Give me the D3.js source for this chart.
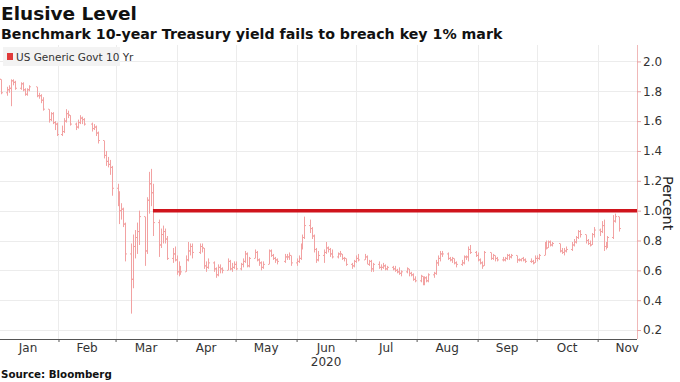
<!DOCTYPE html>
<html>
<head>
<meta charset="utf-8">
<script src="https://cdn.jsdelivr.net/npm/d3@7"></script>
<style>
  body { margin: 0; background: #fff; }
  svg { display: block; font-family: "DejaVu Sans", Verdana, sans-serif; }
</style>
</head>
<body>
<div id="chart"></div>
<script>
// trading days Jan 2 .. Nov 12 2020 (weekends and bond-market holidays skipped)
const startDay = '2020-01-02';
const endDay = '2020-11-12';
const holidays = ['2020-01-20', '2020-02-17', '2020-04-10', '2020-05-25', '2020-07-03',
  '2020-09-07', '2020-10-12', '2020-11-11'];

// daily bars, one row per month: open, high, low, close (%)
const opens = [
  1.92,1.88,1.79,1.81,1.82,1.87,1.86,1.82,1.85,1.81,1.78,1.81,1.83,1.77,1.77,1.74,1.68,1.61,1.65,1.59,1.58,
  1.51,1.53,1.60,1.65,1.64,1.58,1.56,1.59,1.62,1.61,1.58,1.55,1.56,1.52,1.47,1.37,1.33,1.31,1.29,
  1.15,1.09,1.00,1.01,0.91,0.71,0.54,0.76,0.82,0.86,0.96,0.73,1.07,1.18,1.12,0.92,0.77,0.84,0.86,0.81,0.68,0.71,
  0.67,0.59,0.61,0.59,0.67,0.73,0.76,0.72,0.76,0.75,0.63,0.62,0.65,0.61,0.57,0.62,0.61,0.60,0.66,0.61,0.62,
  0.64,0.61,0.64,0.66,0.71,0.63,0.68,0.72,0.67,0.65,0.62,0.64,0.73,0.70,0.68,0.67,0.66,0.69,0.69,0.70,
  0.65,0.66,0.68,0.76,0.82,0.90,0.88,0.83,0.74,0.67,0.70,0.72,0.75,0.74,0.71,0.69,0.71,0.71,0.68,0.68,0.64,0.63,
  0.66,0.68,0.67,0.69,0.64,0.66,0.61,0.64,0.62,0.62,0.63,0.61,0.62,0.61,0.60,0.59,0.58,0.59,0.61,0.58,0.57,0.54,
  0.53,0.56,0.51,0.55,0.53,0.57,0.58,0.65,0.68,0.71,0.71,0.68,0.67,0.68,0.65,0.64,0.65,0.69,0.69,0.74,0.72,
  0.70,0.67,0.65,0.63,0.72,0.68,0.70,0.68,0.67,0.67,0.68,0.70,0.69,0.70,0.67,0.67,0.68,0.67,0.66,0.66,0.65,
  0.68,0.68,0.70,0.77,0.75,0.79,0.77,0.78,0.73,0.72,0.73,0.74,0.77,0.79,0.82,0.86,0.84,0.80,0.78,0.77,0.84,
  0.87,0.86,0.90,0.76,0.77,0.82,0.93,0.96
];
const highs = [
  1.93,1.88,1.83,1.84,1.88,1.88,1.87,1.86,1.86,1.82,1.82,1.84,1.83,1.79,1.78,1.76,1.68,1.66,1.66,1.60,1.59,
  1.57,1.62,1.68,1.67,1.64,1.59,1.61,1.64,1.63,1.62,1.59,1.58,1.57,1.53,1.47,1.40,1.36,1.34,1.30,
  1.18,1.13,1.05,1.02,0.92,0.78,0.84,0.87,0.92,1.00,0.96,1.09,1.26,1.28,1.18,0.94,0.88,0.90,0.88,0.83,0.75,0.76,
  0.70,0.66,0.63,0.70,0.79,0.78,0.78,0.78,0.78,0.75,0.66,0.68,0.66,0.62,0.64,0.64,0.62,0.68,0.67,0.65,0.66,
  0.66,0.65,0.68,0.73,0.72,0.69,0.74,0.73,0.68,0.66,0.66,0.74,0.74,0.71,0.69,0.68,0.71,0.71,0.72,0.70,
  0.68,0.70,0.78,0.84,0.96,0.94,0.89,0.84,0.75,0.73,0.74,0.79,0.76,0.75,0.74,0.72,0.73,0.71,0.69,0.68,0.65,0.67,
  0.70,0.71,0.71,0.70,0.67,0.67,0.65,0.66,0.64,0.65,0.64,0.63,0.63,0.63,0.61,0.62,0.60,0.62,0.61,0.59,0.58,0.56,
  0.57,0.56,0.56,0.56,0.58,0.59,0.67,0.70,0.73,0.73,0.72,0.69,0.69,0.68,0.66,0.67,0.70,0.70,0.76,0.77,0.73,
  0.72,0.68,0.66,0.73,0.72,0.71,0.70,0.69,0.69,0.69,0.71,0.71,0.71,0.70,0.68,0.68,0.69,0.68,0.68,0.67,0.70,
  0.70,0.71,0.79,0.80,0.80,0.80,0.79,0.78,0.75,0.75,0.76,0.79,0.81,0.83,0.87,0.87,0.84,0.81,0.80,0.85,0.89,
  0.88,0.93,0.94,0.79,0.83,0.97,0.98,0.96
];
const lows = [
  1.86,1.78,1.77,1.79,1.70,1.84,1.81,1.81,1.80,1.77,1.77,1.80,1.76,1.75,1.72,1.67,1.59,1.60,1.58,1.54,1.50,
  1.50,1.52,1.59,1.62,1.57,1.54,1.55,1.58,1.58,1.57,1.53,1.54,1.50,1.45,1.35,1.30,1.29,1.24,1.10,
  1.03,0.91,0.94,0.89,0.66,0.31,0.48,0.68,0.71,0.77,0.63,0.71,0.98,1.03,0.83,0.69,0.75,0.78,0.78,0.67,0.65,0.66,
  0.57,0.56,0.57,0.59,0.66,0.70,0.68,0.71,0.72,0.61,0.59,0.61,0.59,0.55,0.56,0.58,0.58,0.60,0.60,0.59,0.61,
  0.60,0.60,0.62,0.65,0.62,0.62,0.68,0.66,0.63,0.60,0.61,0.64,0.69,0.67,0.65,0.64,0.65,0.67,0.67,0.63,
  0.63,0.65,0.67,0.74,0.81,0.85,0.81,0.72,0.65,0.66,0.65,0.71,0.72,0.69,0.68,0.68,0.69,0.67,0.66,0.63,0.61,0.62,
  0.65,0.66,0.67,0.64,0.63,0.59,0.59,0.61,0.60,0.61,0.60,0.60,0.60,0.59,0.58,0.57,0.56,0.58,0.56,0.56,0.53,0.52,
  0.52,0.50,0.50,0.52,0.52,0.55,0.57,0.63,0.66,0.69,0.67,0.66,0.65,0.64,0.62,0.63,0.64,0.67,0.66,0.71,0.69,
  0.66,0.64,0.61,0.63,0.67,0.67,0.66,0.66,0.66,0.66,0.67,0.67,0.68,0.65,0.66,0.66,0.66,0.65,0.65,0.64,0.65,
  0.66,0.67,0.70,0.74,0.75,0.76,0.76,0.72,0.71,0.70,0.72,0.73,0.76,0.78,0.81,0.82,0.78,0.77,0.76,0.77,0.82,
  0.83,0.85,0.73,0.74,0.75,0.81,0.92,0.86
];
const closes = [
  1.88,1.79,1.81,1.82,1.87,1.86,1.82,1.85,1.81,1.78,1.81,1.83,1.77,1.77,1.74,1.68,1.61,1.65,1.59,1.58,1.51,
  1.53,1.60,1.65,1.64,1.58,1.56,1.59,1.62,1.61,1.58,1.55,1.56,1.52,1.47,1.37,1.33,1.31,1.29,1.15,
  1.09,1.00,1.01,0.91,0.71,0.54,0.76,0.82,0.86,0.96,0.73,1.07,1.18,1.12,0.92,0.77,0.84,0.86,0.81,0.68,0.71,0.67,
  0.59,0.61,0.59,0.67,0.73,0.76,0.72,0.76,0.75,0.63,0.62,0.65,0.61,0.57,0.62,0.61,0.60,0.66,0.61,0.62,0.64,
  0.61,0.64,0.66,0.71,0.63,0.68,0.72,0.67,0.65,0.62,0.64,0.73,0.70,0.68,0.67,0.66,0.69,0.69,0.70,0.65,
  0.66,0.68,0.76,0.82,0.90,0.88,0.83,0.74,0.67,0.70,0.72,0.75,0.74,0.71,0.69,0.71,0.71,0.68,0.68,0.64,0.63,0.66,
  0.68,0.67,0.69,0.64,0.66,0.61,0.64,0.62,0.62,0.63,0.61,0.62,0.61,0.60,0.59,0.58,0.59,0.61,0.58,0.57,0.54,0.53,
  0.56,0.51,0.55,0.53,0.57,0.58,0.65,0.68,0.71,0.71,0.68,0.67,0.68,0.65,0.64,0.65,0.69,0.69,0.74,0.72,0.70,
  0.67,0.65,0.63,0.72,0.68,0.70,0.68,0.67,0.67,0.68,0.70,0.69,0.70,0.67,0.67,0.68,0.67,0.66,0.66,0.65,0.68,
  0.68,0.70,0.77,0.75,0.79,0.77,0.78,0.73,0.72,0.73,0.74,0.77,0.79,0.82,0.86,0.84,0.80,0.78,0.77,0.84,0.87,
  0.86,0.90,0.76,0.77,0.82,0.93,0.96,0.88
];

const yTicks = [0.2, 0.4, 0.6, 0.8, 1.0, 1.2, 1.4, 1.6, 1.8, 2.0];
const monthLabels = ['Jan', 'Feb', 'Mar', 'Apr', 'May', 'Jun', 'Jul', 'Aug', 'Sep', 'Oct', 'Nov'];
const keyLevel = 1.0;
const keyLevelFrom = '2020-03-20';

const width = 680, height = 382;
const plot = { left: 0, right: 637, top: 45, bottom: 339 };

const parse = d3.timeParse('%Y-%m-%d');
const fmt = d3.timeFormat('%Y-%m-%d');
const days = d3.timeDay.range(parse(startDay), d3.timeDay.offset(parse(endDay), 1))
  .filter(d => d.getDay() !== 0 && d.getDay() !== 6 && !holidays.includes(fmt(d)));

const data = days.map((d, i) => ({ date: d, o: opens[i], h: highs[i], l: lows[i], c: closes[i] }));

const x = d3.scaleTime()
  .domain([new Date(2020, 0, 1), new Date(2020, 10, 21)])
  .range([plot.left - 2.5, plot.right]);

const y = d3.scaleLinear()
  .domain([0.14, 2.11])
  .range([plot.bottom, plot.top]);

const svg = d3.select('#chart')
  .append('svg')
  .attr('width', width)
  .attr('height', height);

// titles
svg.append('text')
  .attr('x', 1).attr('y', 20)
  .style('font-size', '18.5px').style('font-weight', 'bold').style('fill', '#111')
  .text('Elusive Level');

svg.append('text')
  .attr('x', 1).attr('y', 39)
  .style('font-size', '14.2px').style('font-weight', 'bold').style('fill', '#111')
  .text('Benchmark 10-year Treasury yield fails to breach key 1% mark');

// grid
const months = d3.timeMonth.range(new Date(2020, 1, 1), new Date(2020, 10, 2));
svg.append('g')
  .selectAll('line')
  .data(months)
  .enter()
  .append('line')
  .attr('x1', d => Math.round(x(d)) + 0.5).attr('x2', d => Math.round(x(d)) + 0.5)
  .attr('y1', plot.top).attr('y2', plot.bottom)
  .style('stroke', '#ececec');

svg.append('g')
  .selectAll('line')
  .data(yTicks)
  .enter()
  .append('line')
  .attr('x1', plot.left).attr('x2', plot.right)
  .attr('y1', d => Math.round(y(d)) + 0.5).attr('y2', d => Math.round(y(d)) + 0.5)
  .style('stroke', '#ececec');

// OHLC bars
const bars = svg.append('g')
  .selectAll('g')
  .data(data)
  .enter()
  .append('g')
  .style('stroke', '#f2a2a2')
  .style('stroke-width', 1);

bars.append('line')
  .attr('x1', d => Math.round(x(d.date)) + 0.5).attr('x2', d => Math.round(x(d.date)) + 0.5)
  .attr('y1', d => y(d.h)).attr('y2', d => y(d.l));

bars.append('line')
  .attr('x1', d => Math.round(x(d.date)) - 1).attr('x2', d => Math.round(x(d.date)))
  .attr('y1', d => y(d.o)).attr('y2', d => y(d.o));

bars.append('line')
  .attr('x1', d => Math.round(x(d.date)) + 1).attr('x2', d => Math.round(x(d.date)) + 2)
  .attr('y1', d => y(d.c)).attr('y2', d => y(d.c));

// key 1% level
svg.append('line')
  .attr('x1', x(parse(keyLevelFrom))).attr('x2', plot.right)
  .attr('y1', y(keyLevel)).attr('y2', y(keyLevel))
  .style('stroke', '#d0141c')
  .style('stroke-width', 3.5);

// right axis
const yAxis = svg.append('g')
  .attr('transform', `translate(${plot.right},0)`)
  .call(d3.axisRight(y).tickValues(yTicks).tickFormat(d3.format('.1f')).tickSize(4).tickPadding(2));
yAxis.select('.domain').attr('d', `M0.5,${plot.top}V${plot.bottom}`).style('stroke', '#f0b8b8');
yAxis.selectAll('.tick line').style('stroke', '#e8a0a0');
yAxis.selectAll('text')
  .style('font-family', '"DejaVu Sans", sans-serif')
  .style('font-size', '12px').style('fill', '#333');

svg.append('text')
  .attr('transform', `translate(663,${y(1.05)}) rotate(90)`)
  .attr('text-anchor', 'middle')
  .style('font-size', '14.5px').style('fill', '#222')
  .text('Percent');

// bottom axis
const xAxis = svg.append('g')
  .attr('transform', `translate(0,${plot.bottom})`)
  .call(d3.axisBottom(x).tickValues(months).tickFormat('').tickSize(3));
xAxis.select('.domain').attr('d', `M${plot.left},0.5H${plot.right}`).style('stroke', '#555');
xAxis.selectAll('.tick line').style('stroke', '#555');

const monthStarts = d3.timeMonth.range(new Date(2020, 0, 1), new Date(2020, 11, 2));
svg.append('g')
  .selectAll('text')
  .data(monthLabels)
  .enter()
  .append('text')
  .attr('x', (d, i) => (x(monthStarts[i]) + x(monthStarts[i + 1])) / 2)
  .attr('y', 352)
  .attr('text-anchor', 'middle')
  .style('font-size', '12px').style('fill', '#333')
  .text(d => d);

svg.append('text')
  .attr('x', (x(new Date(2020, 5, 1)) + x(new Date(2020, 6, 1))) / 2)
  .attr('y', 366)
  .attr('text-anchor', 'middle')
  .style('font-size', '12px').style('fill', '#333')
  .text('2020');

// legend
const legend = svg.append('g').attr('transform', 'translate(3,47)');
legend.append('rect')
  .attr('width', 117).attr('height', 19)
  .style('fill', '#f3f3f3');
legend.append('rect')
  .attr('x', 4).attr('y', 6).attr('width', 6).attr('height', 7)
  .style('fill', '#e03a3a');
legend.append('text')
  .attr('x', 13).attr('y', 13.5)
  .style('font-size', '10.5px').style('fill', '#333')
  .text('US Generic Govt 10 Yr');

// source
svg.append('text')
  .attr('x', 1).attr('y', 378)
  .style('font-size', '10.3px').style('font-weight', 'bold').style('fill', '#111')
  .text('Source: Bloomberg');
</script>
</body>
</html>
